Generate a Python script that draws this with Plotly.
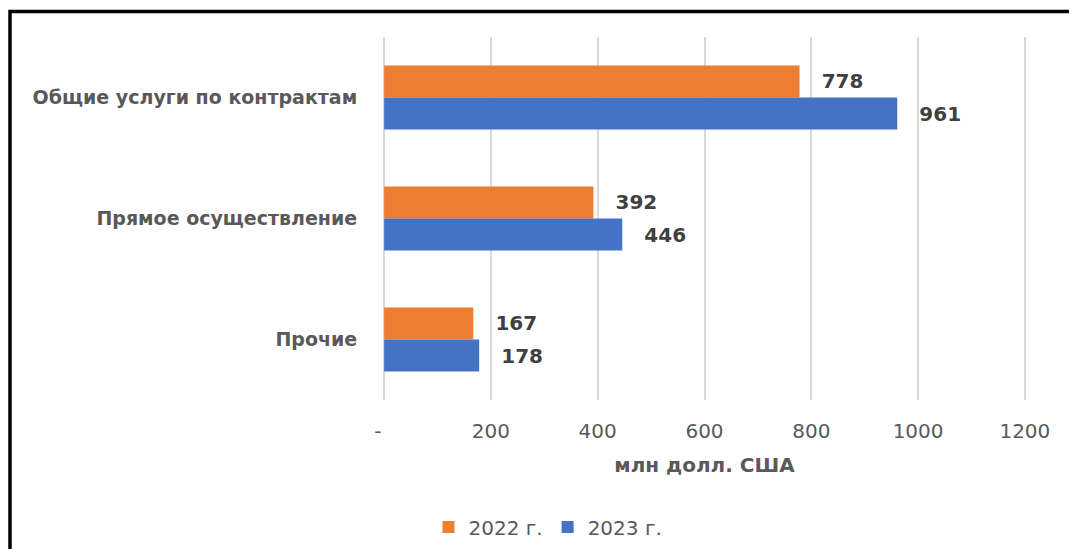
import plotly.graph_objects as go

categories = ["Общие услуги по контрактам", "Прямое осуществление", "Прочие"]
values_2022 = [778, 392, 167]
values_2023 = [961, 446, 178]
tick_vals = [0, 200, 400, 600, 800, 1000, 1200]
tick_text = ["-\u00a0\u00a0", "200", "400", "600", "800", "1000", "1200"]

# the page body has an 8px margin, so the figure is a bit smaller than the window
OFF = 8
W, H = 1077 - 2 * OFF, 557 - 2 * OFF
L, R, T, B = 382 - OFF, W - (1027 - OFF), 37 - OFF, H - (400 - OFF)


def px_x(px):
    return (px - OFF - L) / (W - L - R)


def px_y(py):
    return (H - B - (py - OFF)) / (H - T - B)


label_font = dict(family="DejaVu Sans", size=20, color="#404040")
pad = "\u00a0\u00a0\u00a0"

fig = go.Figure()
fig.add_trace(
    go.Bar(
        y=categories,
        x=values_2022,
        name="2022 г.",
        orientation="h",
        marker=dict(color="#ED7D31", line=dict(width=0)),
        text=values_2022,
        texttemplate=pad + "<b>%{x}</b>",
        textposition="outside",
        textfont=label_font,
        cliponaxis=False,
    )
)
fig.add_trace(
    go.Bar(
        y=categories,
        x=values_2023,
        name="2023 г.",
        orientation="h",
        marker=dict(color="#4472C4", line=dict(width=0)),
        text=values_2023,
        texttemplate=pad + "<b>%{x}</b>",
        textposition="outside",
        textfont=label_font,
        cliponaxis=False,
    )
)

# frame: top and left edges of the chart box
fig.add_shape(
    type="path",
    xref="paper",
    yref="paper",
    path=f"M {px_x(10)} {px_y(620)} L {px_x(10)} {px_y(11.5)} L {px_x(1120)} {px_y(11.5)}",
    line=dict(color="black", width=3.5),
)

fig.update_layout(
    width=W,
    height=H,
    barmode="group",
    bargap=0.47,
    bargroupgap=0,
    paper_bgcolor="white",
    plot_bgcolor="white",
    margin=dict(l=L, r=R, t=T, b=B, autoexpand=False),
    font=dict(family="DejaVu Sans", color="#595959"),
    showlegend=True,
    legend=dict(
        orientation="h",
        x=px_x(548),
        xanchor="center",
        y=px_y(527),
        yanchor="middle",
        font=dict(family="DejaVu Sans", size=20, color="#595959"),
        itemwidth=30,
        traceorder="normal",
    ),
)
fig.update_xaxes(
    range=[-4, 1204],
    tickvals=tick_vals,
    ticktext=tick_text,
    showgrid=True,
    gridcolor="#d9d9d9",
    gridwidth=2,
    zeroline=False,
    showline=False,
    ticks="outside",
    ticklen=13,
    tickcolor="rgba(0,0,0,0)",
    tickfont=dict(family="DejaVu Sans", size=20, color="#595959"),
    title=dict(
        text="<b>млн долл. США</b>",
        font=dict(family="DejaVu Sans", size=20, color="#595959"),
        standoff=15,
    ),
)
fig.update_yaxes(
    autorange="reversed",
    showgrid=False,
    zeroline=False,
    showline=False,
    ticks="outside",
    ticklen=20,
    tickcolor="rgba(0,0,0,0)",
    tickfont=dict(family="DejaVu Sans", size=19, color="#595959"),
    tickvals=categories,
    ticktext=["<b>" + c + "</b>" for c in categories],
)

fig.write_html("out.html")
